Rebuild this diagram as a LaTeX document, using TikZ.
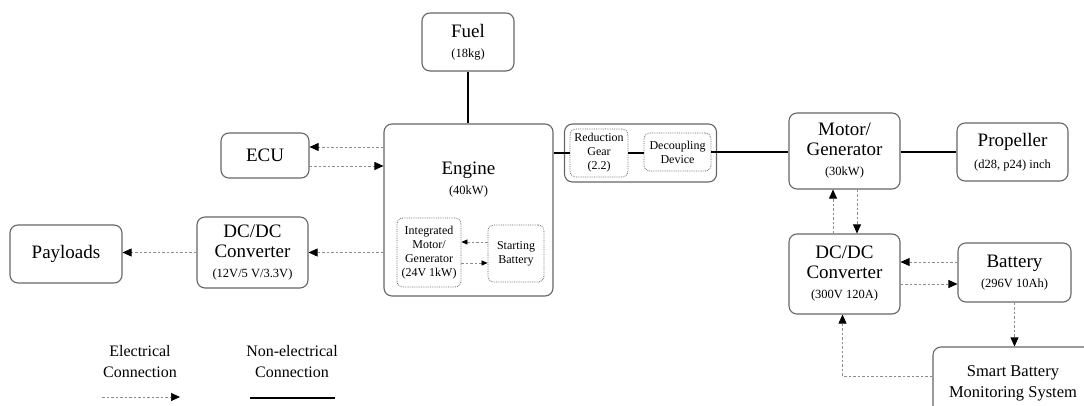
\documentclass[tikz,border=0pt]{standalone}
\usepackage{fontspec}
\setmainfont{Liberation Serif}
\usepackage{tikz}
\usetikzlibrary{arrows.meta}
\newcommand{\lbl}[1]{{\fontsize{12.5}{15}\selectfont #1}}
\begin{document}
\begin{tikzpicture}[x=1pt,y=-1pt,
  font=\fontsize{19}{20}\selectfont,
  blk/.style={draw=black!60,line width=1.1pt,rounded corners=8pt,align=center,inner sep=0pt},
  sub/.style={draw=black!60,densely dotted,line width=0.8pt,rounded corners=6pt,align=center,inner sep=0pt,
    font=\fontsize{12}{14}\selectfont},
  elec/.style={draw=black!45,dash pattern=on 2.5pt off 2pt,line width=0.7pt,
    -{Triangle[length=9pt,width=8pt,color=black,fill=black]}},
  elecs/.style={elec,-{Triangle[length=6pt,width=5pt,color=black,fill=black]}},
  shaft/.style={draw=black,line width=1.6pt}]
\useasboundingbox (0,0) rectangle (1084,406);
\clip (0,0) rectangle (1084,406);
% blocks
\node[blk,minimum width=92pt,minimum height=58pt] (fuel) at (468,42) {Fuel\\\lbl{(18kg)}};
\node[blk,minimum width=88pt,minimum height=45pt] (ecu) at (265,155.5) {ECU};
\node[blk,minimum width=169pt,minimum height=172pt] (engine) at (468.5,210) {};
\node (engtxt) at (468.5,180) [align=center] {Engine\\\lbl{(40kW)}};
\node[sub,minimum width=64pt,minimum height=69pt] (img) at (429,252.5) {Integrated\\Motor/\\Generator\\(24V 1kW)};
\node[sub,minimum width=56pt,minimum height=57pt] (sbat) at (516,253.5) {Starting\\Battery};
\node[blk,minimum width=152pt,minimum height=58pt] (redgrp) at (640.5,153) {};
\node[sub,minimum width=58pt,minimum height=48pt] (gear) at (599,153) {Reduction\\Gear\\(2.2)};
\node[sub,minimum width=67pt,minimum height=38pt] (decoup) at (677.5,152) {Decoupling\\Device};
\node[blk,minimum width=111pt,minimum height=76pt] (mg) at (844.5,151) {Motor/\\Generator\\\lbl{(30kW)}};
\node[blk,minimum width=111pt,minimum height=58pt] (prop) at (1012.5,152) {Propeller\\[2pt]\lbl{(d28, p24) inch}};
\node[blk,minimum width=111pt,minimum height=80pt] (dcr) at (844.5,274) {DC/DC\\Converter\\\lbl{(300V 120A)}};
\node[blk,minimum width=113pt,minimum height=59pt] (bat) at (1014.5,272.5) {Battery\\\lbl{(296V 10Ah)}};
\node[blk,minimum width=160pt,minimum height=73pt,font=\fontsize{16.5}{21}\selectfont] (sbms) at (1013,383.5) {Smart Battery\\Monitoring System};
\node[blk,minimum width=111pt,minimum height=71pt] (dcl) at (252.5,252.5) {DC/DC\\Converter\\\lbl{(12V/5 V/3.3V)}};
\node[blk,minimum width=112pt,minimum height=58pt] (pay) at (66,254) {Payloads};
% legend
\node[align=center,font=\fontsize{16}{21}\selectfont] (legel) at (140,362) {Electrical\\Connection};
\node[align=center,font=\fontsize{16}{21}\selectfont] (legne) at (292,362) {Non-electrical\\Connection};
\coordinate (la) at (102,397);
\coordinate (lb) at (180,397);
\coordinate (lc) at (250,398);
\coordinate (ld) at (335,398);
\draw[elec] (la) -- (lb);
\draw[shaft] (lc) -- (ld);
% mechanical links
\draw[shaft] (fuel.south) -- (fuel.south |- engine.north);
\draw[shaft] (gear.west -| engine.east) -- (gear.west);
\draw[shaft] (gear.east) -- (gear.east -| decoup.west);
\draw[shaft] (decoup.east) -- (decoup.east -| mg.west);
\draw[shaft] (prop.west -| mg.east) -- (prop.west);
% electrical links
\coordinate (ecuin) at ([yshift=8.5pt]ecu.east);
\coordinate (ecuout) at ([yshift=-10.5pt]ecu.east);
\draw[elec] (ecuin -| engine.west) -- (ecuin);
\draw[elec] (ecuout) -- (ecuout -| engine.west);
\draw[elec] (dcl.east -| engine.west) -- (dcl.east);
\draw[elec] (dcl.west) -- (dcl.west -| pay.east);
\coordinate (sbout) at ([yshift=11.5pt]sbat.west);
\coordinate (sbin) at ([yshift=-9.5pt]sbat.west);
\draw[elecs] (sbout) -- (sbout -| img.east);
\draw[elecs] (sbin -| img.east) -- (sbin);
\coordinate (mgin) at ([xshift=-11.5pt]dcr.north);
\coordinate (mgout) at ([xshift=12.5pt]mg.south);
\draw[elec] (mgin) -- (mgin |- mg.south);
\draw[elec] (mgout) -- (mgout |- dcr.north);
\coordinate (batout) at ([yshift=10.5pt]bat.west);
\coordinate (batin) at ([yshift=-11.5pt]bat.west);
\draw[elec] (batout) -- (batout -| dcr.east);
\draw[elec] (batin -| dcr.east) -- (batin);
\draw[elec] (bat.south) -- (bat.south |- sbms.north);
\coordinate (smout) at ([yshift=7.5pt]sbms.west);
\draw[elec] (smout) -| ([xshift=-2pt]dcr.south);
\end{tikzpicture}
\end{document}
